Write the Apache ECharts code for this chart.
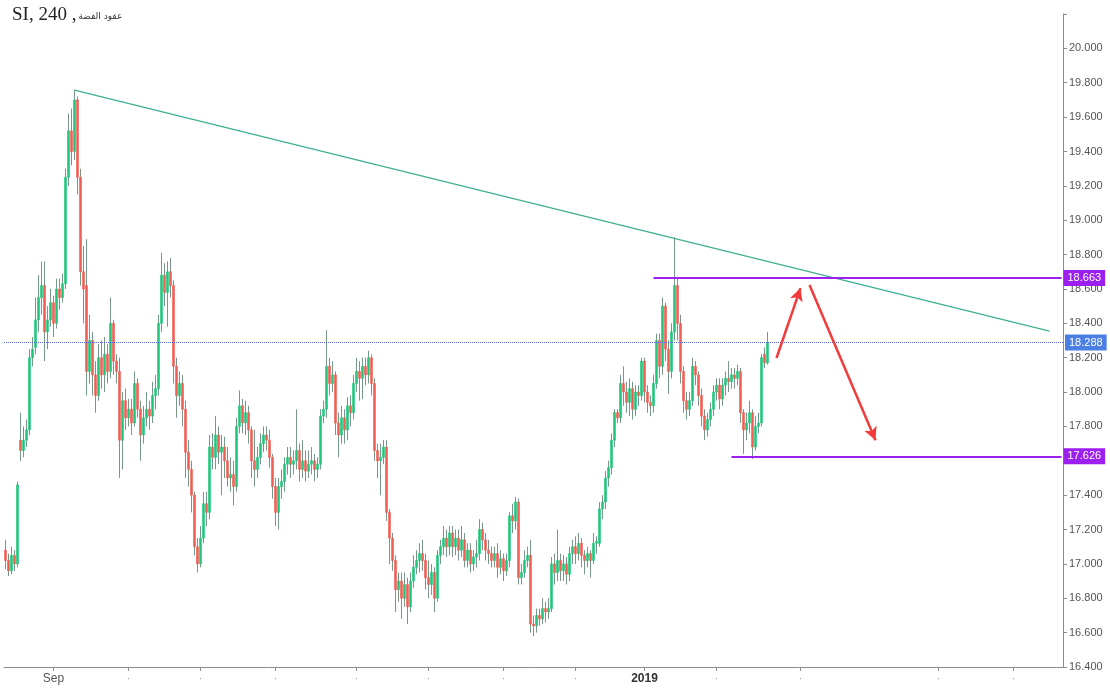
<!DOCTYPE html>
<html>
<head>
<meta charset="utf-8">
<script src="https://cdn.jsdelivr.net/npm/echarts@6/dist/echarts.min.js"></script>
<style>html,body{margin:0;padding:0;background:#fff}#c{width:1110px;height:694px}</style>
</head>
<body>
<div id="c"></div>
<script>
// ---- Data (4h candles) ----
const opens = [
17.08,17.02,16.96,17.05,17.00,17.72,17.66,17.72,17.78,18.20,
18.26,18.42,18.55,18.62,18.35,18.42,18.52,18.40,18.60,18.55,
18.63,19.25,19.52,19.40,19.70,19.25,18.70,18.62,18.12,18.30,
18.10,17.98,18.20,18.10,18.22,18.12,18.40,18.18,18.12,17.72,
17.95,17.85,17.90,17.82,18.05,17.90,17.75,17.85,17.90,17.86,
17.98,18.02,18.40,18.68,18.58,18.70,18.62,18.15,17.98,18.05,
17.90,17.65,17.55,17.40,17.10,17.00,17.15,17.35,17.30,17.68,
17.62,17.75,17.65,17.68,17.60,17.50,17.52,17.45,17.80,17.92,
17.82,17.88,17.78,17.60,17.55,17.62,17.70,17.75,17.72,17.62,
17.45,17.30,17.45,17.48,17.58,17.62,17.58,17.60,17.66,17.55,
17.60,17.54,17.58,17.60,17.55,17.58,17.86,17.90,18.15,18.05,
18.10,17.82,17.75,17.85,17.78,17.92,17.88,18.05,18.12,18.08,
18.15,18.10,18.20,18.05,17.66,17.60,17.62,17.68,17.30,17.15,
17.02,16.85,16.90,16.80,16.88,16.75,16.90,16.98,17.02,17.06,
17.02,16.92,16.88,16.95,16.80,17.05,17.10,17.15,17.10,17.18,
17.10,17.15,17.08,17.14,17.02,17.08,17.00,17.04,17.06,17.20,
17.14,17.08,17.06,17.02,17.06,16.98,17.03,16.96,17.02,17.28,
17.25,17.36,16.92,16.95,17.02,17.05,16.65,16.64,16.70,16.68,
16.74,16.72,16.74,17.00,16.95,17.02,16.96,17.00,16.94,17.06,
17.10,17.06,17.12,17.05,17.02,17.06,17.02,17.12,17.12,17.32,
17.36,17.50,17.56,17.72,17.88,17.85,18.05,18.00,17.94,18.02,
17.90,18.00,17.98,18.18,18.00,17.94,17.92,18.05,18.30,18.15,
18.50,18.25,18.12,18.35,18.62,18.40,18.12,17.95,17.90,17.95,
18.15,18.10,17.98,17.86,17.78,17.84,17.90,18.00,18.04,17.96,
18.04,18.08,18.06,18.10,18.08,18.12,17.88,17.78,17.82,17.88,
17.68,17.80,17.82,18.22,18.17
];
const closes = [
17.02,16.96,17.05,17.00,17.46,17.66,17.72,17.78,18.20,18.25,
18.42,18.55,18.62,18.35,18.42,18.52,18.40,18.60,18.55,18.63,
19.25,19.52,19.40,19.70,19.25,18.70,18.60,18.12,18.30,18.10,
17.98,18.20,18.10,18.22,18.12,18.40,18.18,18.12,17.72,17.95,
17.85,17.90,17.82,18.05,17.90,17.75,17.85,17.90,17.86,17.98,
18.02,18.40,18.68,18.58,18.70,18.62,18.15,17.98,18.05,17.90,
17.65,17.55,17.40,17.10,17.00,17.15,17.35,17.30,17.68,17.62,
17.75,17.65,17.68,17.60,17.50,17.52,17.45,17.80,17.92,17.82,
17.88,17.78,17.60,17.55,17.62,17.70,17.75,17.72,17.62,17.45,
17.30,17.45,17.48,17.58,17.62,17.58,17.60,17.66,17.55,17.60,
17.54,17.58,17.60,17.55,17.58,17.86,17.90,18.15,18.05,18.10,
17.82,17.75,17.85,17.78,17.92,17.88,18.05,18.12,18.08,18.15,
18.10,18.20,18.05,17.66,17.60,17.62,17.68,17.30,17.15,17.02,
16.85,16.90,16.80,16.88,16.75,16.90,16.98,17.02,17.06,17.02,
16.92,16.88,16.95,16.80,17.05,17.10,17.15,17.10,17.18,17.10,
17.15,17.08,17.14,17.02,17.08,17.00,17.04,17.06,17.20,17.14,
17.08,17.06,17.02,17.06,16.98,17.03,16.96,17.02,17.28,17.25,
17.36,16.92,16.95,17.02,17.05,16.65,16.64,16.70,16.68,16.74,
16.72,16.74,17.00,16.95,17.02,16.96,17.00,16.94,17.06,17.10,
17.06,17.12,17.05,17.02,17.06,17.02,17.12,17.13,17.32,17.36,
17.50,17.56,17.72,17.88,17.85,18.05,18.00,17.94,18.02,17.90,
18.00,17.98,18.18,18.00,17.94,17.92,18.05,18.30,18.15,18.50,
18.25,18.12,18.35,18.62,18.40,18.12,17.95,17.90,17.95,18.15,
18.10,17.98,17.86,17.78,17.84,17.90,18.00,18.04,17.96,18.04,
18.08,18.06,18.10,18.08,18.12,17.88,17.78,17.82,17.88,17.68,
17.80,17.82,18.20,18.17,18.288
];
const lows = [
16.97,16.93,16.94,16.96,16.98,17.60,17.62,17.68,17.75,18.15,
18.22,18.35,18.45,18.18,18.25,18.38,18.32,18.37,18.48,18.52,
18.60,19.20,19.32,19.35,19.15,18.62,18.40,17.98,18.05,17.98,
17.88,17.95,18.02,18.00,18.05,18.08,18.10,18.05,17.50,17.55,
17.78,17.80,17.75,17.80,17.85,17.60,17.70,17.80,17.78,17.82,
17.90,17.98,18.35,18.50,18.38,18.55,18.05,17.85,17.92,17.80,
17.50,17.45,17.30,17.05,16.95,16.98,17.12,17.22,17.26,17.55,
17.55,17.58,17.40,17.50,17.45,17.42,17.34,17.42,17.76,17.76,
17.75,17.70,17.50,17.45,17.50,17.58,17.65,17.66,17.56,17.38,
17.22,17.20,17.38,17.42,17.52,17.50,17.52,17.55,17.48,17.50,
17.48,17.50,17.52,17.48,17.50,17.55,17.82,17.85,17.98,18.00,
17.75,17.62,17.70,17.70,17.72,17.80,17.84,18.00,17.95,17.96,
18.04,18.05,17.98,17.60,17.50,17.40,17.58,17.25,17.00,16.96,
16.72,16.78,16.68,16.75,16.65,16.72,16.86,16.94,16.95,16.96,
16.85,16.80,16.82,16.72,16.78,17.00,17.05,17.04,17.05,17.04,
17.05,17.02,17.04,16.98,16.98,16.95,16.96,16.98,17.02,17.08,
17.02,17.00,16.98,16.98,16.92,16.94,16.90,16.93,16.98,17.18,
17.20,16.88,16.88,16.92,16.98,16.60,16.58,16.60,16.64,16.65,
16.66,16.68,16.72,16.88,16.90,16.90,16.90,16.88,16.90,17.00,
17.00,17.02,16.98,16.94,16.98,16.92,17.00,17.06,17.10,17.26,
17.32,17.45,17.52,17.68,17.82,17.82,17.92,17.88,17.86,17.84,
17.86,17.92,17.95,17.94,17.88,17.86,17.88,18.02,18.08,18.10,
18.18,17.99,18.08,18.30,18.30,18.05,17.88,17.84,17.86,17.92,
18.04,17.92,17.80,17.72,17.74,17.80,17.86,17.95,17.90,17.92,
17.98,18.00,18.02,18.02,18.04,17.82,17.64,17.72,17.76,17.61,
17.66,17.76,17.80,18.14,18.16
];
const highs = [
17.14,17.06,17.10,17.08,17.48,17.88,17.80,17.84,18.25,18.32,
18.55,18.68,18.76,18.76,18.50,18.60,18.56,18.66,18.66,18.69,
19.30,19.62,19.65,19.76,19.72,19.30,18.85,18.89,18.45,18.35,
18.18,18.28,18.30,18.32,18.28,18.55,18.42,18.22,18.20,18.00,
18.02,17.96,17.96,18.12,18.08,17.95,17.92,18.00,17.95,18.06,
18.10,18.45,18.81,18.75,18.76,18.78,18.65,18.20,18.12,18.10,
17.95,17.72,17.60,17.42,17.15,17.22,17.42,17.42,17.75,17.76,
17.86,17.80,17.75,17.74,17.68,17.62,17.60,17.85,18.01,17.96,
17.95,17.92,17.80,17.78,17.68,17.76,17.80,17.80,17.78,17.64,
17.50,17.50,17.55,17.62,17.68,17.68,17.66,17.90,17.70,17.72,
17.66,17.66,17.68,17.64,17.62,17.90,17.95,18.36,18.20,18.18,
18.12,17.88,17.92,17.90,17.97,17.98,18.10,18.20,18.18,18.20,
18.20,18.24,18.22,18.08,17.70,17.70,17.72,17.72,17.32,17.18,
17.05,16.95,16.95,16.95,16.92,16.95,17.05,17.08,17.12,17.14,
17.06,17.02,17.00,16.98,17.08,17.14,17.22,17.20,17.22,17.22,
17.20,17.20,17.22,17.18,17.12,17.12,17.08,17.14,17.26,17.24,
17.18,17.14,17.10,17.10,17.12,17.08,17.06,17.06,17.30,17.35,
17.39,17.38,17.00,17.08,17.10,17.14,16.70,16.74,16.74,16.80,
16.78,16.80,17.04,17.06,17.20,17.06,17.05,17.04,17.10,17.14,
17.16,17.18,17.15,17.08,17.10,17.08,17.18,17.16,17.36,17.40,
17.54,17.60,17.76,17.90,17.90,18.10,18.15,18.06,18.08,18.06,
18.04,18.04,18.20,18.20,18.04,17.98,18.10,18.34,18.34,18.55,
18.52,18.30,18.40,18.90,18.66,18.45,18.15,18.00,18.00,18.20,
18.18,18.12,18.02,17.90,17.88,17.94,18.04,18.08,18.08,18.08,
18.12,18.18,18.14,18.14,18.16,18.14,17.90,17.88,17.95,17.90,
17.86,17.88,18.22,18.26,18.35
];

// x-axis ticks (category index) and their labels
const xTickIndex = [16, 41, 65, 90, 117, 141, 166, 190, 213, 237, 265, 311, 336];
const xTickText  = ['Sep','·','·','·','·','·','·','·','2019','·','·','·','·'];

// y-axis range / ticks
const yMin = 16.4, yMax = 20.2, yStep = 0.2;

// price levels
const currentPrice = 18.288;
const resistance = 18.663;
const support = 17.626;

// drawn annotations: [categoryIndex, price]
const trendLine = [[23, 19.757], [348, 18.355]];
const resistanceLine = [[216, resistance], [352, resistance]];
const supportLine = [[242, support], [352, support]];
const arrowUp = [[257, 18.198], [265, 18.605]];
const arrowDown = [[268, 18.623], [290, 17.72]];

const totalCategories = 353;

// ---- Build ----
const categories = Array.from({length: totalCategories}, (_, i) => 'c' + i);
const tickMap = {};
xTickIndex.forEach((k, j) => { tickMap[k] = xTickText[j]; });
const isTick = (i) => tickMap[i] !== undefined;
const candleData = opens.map((o, i) => [o, closes[i], lows[i], highs[i]]);
// body-only copy (no wick) so that bodies can be coloured over grey wicks
const bodyData = opens.map((o, i) => [o, closes[i], Math.min(o, closes[i]), Math.max(o, closes[i])]);

const purple = '#9c1ff0';
const upColor = '#1fc77c', downColor = '#ef5f55', wickColor = '#5f8574';
const boxLabel = (txt, bg) => ({
  show: true, position: 'end', distance: 2, formatter: txt,
  color: '#fff', backgroundColor: bg, padding: [3, 4, 2, 4],
  fontSize: 11, fontFamily: 'Liberation Sans, Arial, sans-serif'
});
const seg = (pts, style, label, endSymbol) => [
  Object.assign({coord: pts[0], symbol: 'none', lineStyle: style}, label ? {label} : {label: {show: false}}),
  {coord: pts[1], symbol: endSymbol || 'none', symbolSize: endSymbol ? [10, 13] : 0}
];

const chart = echarts.init(document.getElementById('c'), null, {renderer: 'canvas'});
chart.setOption({
  animation: false,
  backgroundColor: '#ffffff',
  title: {
    left: 7, top: 1,
    text: '{a|SI, 240 ,}{b|عقود الفضة}',
    textStyle: {
      rich: {
        a: {fontFamily: 'Liberation Serif', fontSize: 19, color: '#222', fontWeight: 'normal'},
        b: {fontFamily: 'DejaVu Sans', fontSize: 9, color: '#333', fontWeight: 'normal', padding: [3, 0, 0, 2]}
      }
    }
  },
  grid: {left: 4, right: 47, top: 14, bottom: 27},
  xAxis: {
    type: 'category', data: categories, boundaryGap: true,
    axisLine: {show: true, lineStyle: {color: '#8c8c8c', width: 1}},
    axisTick: {show: true, alignWithLabel: true, interval: (i) => isTick(i), length: 4, lineStyle: {color: '#8c8c8c'}},
    axisLabel: {
      interval: (i) => isTick(i),
      formatter: (v, i) => { const t = tickMap[i]; if (t === undefined) return ''; return t === '2019' ? '{b|2019}' : (t === 'Sep' ? '{s|Sep}' : '{d|' + t + '}'); },
      margin: 6,
      rich: {
        b: {fontWeight: 'bold', color: '#333', fontSize: 12, fontFamily: 'Liberation Sans, Arial'},
        s: {color: '#555', fontSize: 12, fontFamily: 'Liberation Sans, Arial'},
        d: {color: '#aaa', fontSize: 12}
      }
    },
    splitLine: {show: false}
  },
  yAxis: {
    type: 'value', position: 'right', min: yMin, max: yMax, interval: yStep,
    axisLine: {show: true, lineStyle: {color: '#8c8c8c', width: 1}},
    axisTick: {show: true, length: 4, lineStyle: {color: '#8c8c8c'}},
    splitLine: {show: false},
    axisLabel: {
      color: '#555', fontSize: 11, fontFamily: 'Liberation Sans, Arial', margin: 6,
      formatter: (v) => v > 20.001 ? '' : v.toFixed(3)
    }
  },
  series: [{
    type: 'candlestick',
    name: 'wicks',
    data: candleData,
    barWidth: 1,
    itemStyle: {color: wickColor, color0: wickColor, borderColor: wickColor, borderColor0: wickColor, borderWidth: 1, opacity: 0.85},
    markLine: {
      silent: true, animation: false,
      symbol: ['none', 'none'],
      label: {show: false},
      data: [
        [{yAxis: currentPrice, x: 4, symbol: 'none', lineStyle: {color: '#5468e0', type: 'dotted', width: 1}, label: boxLabel(currentPrice.toFixed(3), '#4c7fe3')},
         {yAxis: currentPrice, x: 1063, symbol: 'none'}],
        seg(trendLine, {color: '#3fae94', width: 1.2, type: 'solid'}),
        seg(resistanceLine, {color: purple, width: 2, type: 'solid'}, boxLabel(resistance.toFixed(3), purple)),
        seg(supportLine, {color: purple, width: 2, type: 'solid'}, boxLabel(support.toFixed(3), purple)),
        seg(arrowUp, {color: '#f23b3b', width: 2.5, type: 'solid'}, null, 'arrow'),
        seg(arrowDown, {color: '#f23b3b', width: 2.5, type: 'solid'}, null, 'arrow')
      ]
    }
  }, {
    type: 'candlestick',
    name: 'bodies',
    data: bodyData,
    barWidth: 1.6,
    itemStyle: {color: upColor, color0: downColor, borderColor: upColor, borderColor0: downColor, borderWidth: 0.6}
  }]
});
</script>
</body>
</html>
